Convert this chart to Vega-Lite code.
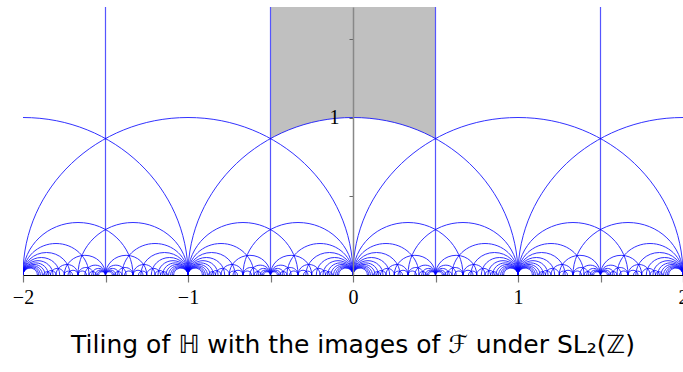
{
"$schema": "https://vega.github.io/schema/vega-lite/v6.json",
"width": 660, "height": 268,
"autosize": {"type": "none"},
"padding": {"left": 23, "top": 7, "right": 0, "bottom": 97},
"background": "white",
"config": {"view": {"stroke": null}},
"title": {"text": "Tiling of ℍ with the images of ℱ under SL₂(ℤ)", "orient": "bottom", "offset": 26, "fontSize": 25, "font": "DejaVu Sans", "fontWeight": "normal", "color": "black", "frame": "group"},
"datasets": {
"region": [{"a": -0.5, "b": 0.5}],
"disc": [{"c": 0, "r": 1}],
"verts": [{"x": -1.5}, {"x": -0.5}, {"x": 0.5}, {"x": 1.5}],
"arcs": [
{"c":-2,"r":1},{"c":-1,"r":1},{"c":0,"r":1},{"c":1,"r":1},{"c":2,"r":1},
{"c":-1.66667,"r":0.33333},{"c":-1.8,"r":0.2},{"c":-1.85714,"r":0.14286},{"c":-1.88889,"r":0.11111},{"c":-1.90909,"r":0.09091},{"c":-1.92308,"r":0.07692},{"c":-1.93333,"r":0.06667},{"c":-1.94118,"r":0.05882},{"c":-1.94737,"r":0.05263},{"c":-1.95238,"r":0.04762},{"c":-1.95652,"r":0.04348},
{"c":-1.33333,"r":0.33333},{"c":-1.2,"r":0.2},{"c":-1.14286,"r":0.14286},{"c":-1.11111,"r":0.11111},{"c":-1.09091,"r":0.09091},{"c":-1.07692,"r":0.07692},{"c":-1.06667,"r":0.06667},{"c":-1.05882,"r":0.05882},{"c":-1.05263,"r":0.05263},{"c":-1.04762,"r":0.04762},{"c":-1.04348,"r":0.04348},
{"c":-0.66667,"r":0.33333},{"c":-0.8,"r":0.2},{"c":-0.85714,"r":0.14286},{"c":-0.88889,"r":0.11111},{"c":-0.90909,"r":0.09091},{"c":-0.92308,"r":0.07692},{"c":-0.93333,"r":0.06667},{"c":-0.94118,"r":0.05882},{"c":-0.94737,"r":0.05263},{"c":-0.95238,"r":0.04762},{"c":-0.95652,"r":0.04348},
{"c":-0.33333,"r":0.33333},{"c":-0.2,"r":0.2},{"c":-0.14286,"r":0.14286},{"c":-0.11111,"r":0.11111},{"c":-0.09091,"r":0.09091},{"c":-0.07692,"r":0.07692},{"c":-0.06667,"r":0.06667},{"c":-0.05882,"r":0.05882},{"c":-0.05263,"r":0.05263},{"c":-0.04762,"r":0.04762},{"c":-0.04348,"r":0.04348},
{"c":0.33333,"r":0.33333},{"c":0.2,"r":0.2},{"c":0.14286,"r":0.14286},{"c":0.11111,"r":0.11111},{"c":0.09091,"r":0.09091},{"c":0.07692,"r":0.07692},{"c":0.06667,"r":0.06667},{"c":0.05882,"r":0.05882},{"c":0.05263,"r":0.05263},{"c":0.04762,"r":0.04762},{"c":0.04348,"r":0.04348},
{"c":0.66667,"r":0.33333},{"c":0.8,"r":0.2},{"c":0.85714,"r":0.14286},{"c":0.88889,"r":0.11111},{"c":0.90909,"r":0.09091},{"c":0.92308,"r":0.07692},{"c":0.93333,"r":0.06667},{"c":0.94118,"r":0.05882},{"c":0.94737,"r":0.05263},{"c":0.95238,"r":0.04762},{"c":0.95652,"r":0.04348},
{"c":1.33333,"r":0.33333},{"c":1.2,"r":0.2},{"c":1.14286,"r":0.14286},{"c":1.11111,"r":0.11111},{"c":1.09091,"r":0.09091},{"c":1.07692,"r":0.07692},{"c":1.06667,"r":0.06667},{"c":1.05882,"r":0.05882},{"c":1.05263,"r":0.05263},{"c":1.04762,"r":0.04762},{"c":1.04348,"r":0.04348},
{"c":1.66667,"r":0.33333},{"c":1.8,"r":0.2},{"c":1.85714,"r":0.14286},{"c":1.88889,"r":0.11111},{"c":1.90909,"r":0.09091},{"c":1.92308,"r":0.07692},{"c":1.93333,"r":0.06667},{"c":1.94118,"r":0.05882},{"c":1.94737,"r":0.05263},{"c":1.95238,"r":0.04762},{"c":1.95652,"r":0.04348},
{"c":-1.625,"r":0.125},{"c":-1.5625,"r":0.0625},{"c":-1.54167,"r":0.04167},{"c":-1.53125,"r":0.03125},{"c":-1.525,"r":0.025},{"c":-1.52083,"r":0.02083},
{"c":-1.375,"r":0.125},{"c":-1.4375,"r":0.0625},{"c":-1.45833,"r":0.04167},{"c":-1.46875,"r":0.03125},{"c":-1.475,"r":0.025},{"c":-1.47917,"r":0.02083},
{"c":-0.625,"r":0.125},{"c":-0.5625,"r":0.0625},{"c":-0.54167,"r":0.04167},{"c":-0.53125,"r":0.03125},{"c":-0.525,"r":0.025},{"c":-0.52083,"r":0.02083},
{"c":-0.375,"r":0.125},{"c":-0.4375,"r":0.0625},{"c":-0.45833,"r":0.04167},{"c":-0.46875,"r":0.03125},{"c":-0.475,"r":0.025},{"c":-0.47917,"r":0.02083},
{"c":0.375,"r":0.125},{"c":0.4375,"r":0.0625},{"c":0.45833,"r":0.04167},{"c":0.46875,"r":0.03125},{"c":0.475,"r":0.025},{"c":0.47917,"r":0.02083},
{"c":0.625,"r":0.125},{"c":0.5625,"r":0.0625},{"c":0.54167,"r":0.04167},{"c":0.53125,"r":0.03125},{"c":0.525,"r":0.025},{"c":0.52083,"r":0.02083},
{"c":1.375,"r":0.125},{"c":1.4375,"r":0.0625},{"c":1.45833,"r":0.04167},{"c":1.46875,"r":0.03125},{"c":1.475,"r":0.025},{"c":1.47917,"r":0.02083},
{"c":1.625,"r":0.125},{"c":1.5625,"r":0.0625},{"c":1.54167,"r":0.04167},{"c":1.53125,"r":0.03125},{"c":1.525,"r":0.025},{"c":1.52083,"r":0.02083},
{"c":-1.61905,"r":0.04762},{"c":-1.38095,"r":0.04762},{"c":-1.64103,"r":0.02564},{"c":-1.35897,"r":0.02564},{"c":-1.73333,"r":0.06667},{"c":-1.26667,"r":0.06667},{"c":-1.69697,"r":0.0303},{"c":-1.30303,"r":0.0303},{"c":-1.725,"r":0.025},{"c":-1.275,"r":0.025},{"c":-1.79167,"r":0.04167},{"c":-1.20833,"r":0.04167},{"c":-1.82857,"r":0.02857},{"c":-1.17143,"r":0.02857},{"c":-1.57778,"r":0.02222},{"c":-1.42222,"r":0.02222},{"c":-1.85417,"r":0.02083},{"c":-1.14583,"r":0.02083},
{"c":-0.61905,"r":0.04762},{"c":-0.38095,"r":0.04762},{"c":-0.64103,"r":0.02564},{"c":-0.35897,"r":0.02564},{"c":-0.73333,"r":0.06667},{"c":-0.26667,"r":0.06667},{"c":-0.69697,"r":0.0303},{"c":-0.30303,"r":0.0303},{"c":-0.725,"r":0.025},{"c":-0.275,"r":0.025},{"c":-0.79167,"r":0.04167},{"c":-0.20833,"r":0.04167},{"c":-0.82857,"r":0.02857},{"c":-0.17143,"r":0.02857},{"c":-0.57778,"r":0.02222},{"c":-0.42222,"r":0.02222},{"c":-0.85417,"r":0.02083},{"c":-0.14583,"r":0.02083},
{"c":0.38095,"r":0.04762},{"c":0.61905,"r":0.04762},{"c":0.35897,"r":0.02564},{"c":0.64103,"r":0.02564},{"c":0.26667,"r":0.06667},{"c":0.73333,"r":0.06667},{"c":0.30303,"r":0.0303},{"c":0.69697,"r":0.0303},{"c":0.275,"r":0.025},{"c":0.725,"r":0.025},{"c":0.20833,"r":0.04167},{"c":0.79167,"r":0.04167},{"c":0.17143,"r":0.02857},{"c":0.82857,"r":0.02857},{"c":0.42222,"r":0.02222},{"c":0.57778,"r":0.02222},{"c":0.14583,"r":0.02083},{"c":0.85417,"r":0.02083},
{"c":1.38095,"r":0.04762},{"c":1.61905,"r":0.04762},{"c":1.35897,"r":0.02564},{"c":1.64103,"r":0.02564},{"c":1.26667,"r":0.06667},{"c":1.73333,"r":0.06667},{"c":1.30303,"r":0.0303},{"c":1.69697,"r":0.0303},{"c":1.275,"r":0.025},{"c":1.725,"r":0.025},{"c":1.20833,"r":0.04167},{"c":1.79167,"r":0.04167},{"c":1.17143,"r":0.02857},{"c":1.82857,"r":0.02857},{"c":1.42222,"r":0.02222},{"c":1.57778,"r":0.02222},{"c":1.14583,"r":0.02083},{"c":1.85417,"r":0.02083}
]
},
"layer": [
{"data": {"name": "region"},
 "mark": {"type": "rect", "color": "#c0c0c0"},
 "encoding": {
  "x": {"field": "a", "type": "quantitative", "scale": {"domain": [-2, 2], "nice": false, "zero": false},
        "axis": {"title": null, "grid": false, "values": [-2, -1.5, -1, -0.5, 0, 0.5, 1, 1.5, 2],
                 "labelExpr": "datum.value % 1 === 0 ? format(datum.value, 'd') : ''",
                 "labelFlush": false, "labelOverlap": false, "labelBound": false,
                 "tickSize": 7, "tickColor": "#777777", "tickWidth": 1.2,
                 "domainColor": "#000000", "domainWidth": 1.2,
                 "labelFont": "Liberation Serif", "labelFontSize": 20, "labelColor": "#000000", "labelPadding": 5, "zindex": 1}},
  "x2": {"field": "b"},
  "y": {"datum": 0, "type": "quantitative", "scale": {"domain": [0, 1.70159], "nice": false, "zero": false},
        "axis": {"title": null, "grid": false, "orient": "left", "offset": -330, "values": [0.5, 1, 1.5],
                 "labelExpr": "datum.value === 1 ? '1' : ''",
                 "tickSize": 4, "tickColor": "#666666", "tickWidth": 1,
                 "domainColor": "#888888", "domainWidth": 1.5,
                 "labelFont": "Liberation Serif", "labelFontSize": 20, "labelColor": "#000000", "labelPadding": 10, "zindex": 1}},
  "y2": {"datum": 1.70159}
 }},
{"data": {"name": "disc"},
 "mark": {"type": "point", "shape": "M-1,0A1,0.954545,0,0,1,1,0Z", "filled": true, "fill": "#ffffff", "strokeWidth": 0, "opacity": 1, "clip": true},
 "encoding": {
  "x": {"field": "c", "type": "quantitative"},
  "y": {"datum": 0, "type": "quantitative"},
  "size": {"field": "r", "type": "quantitative", "scale": {"type": "pow", "exponent": 2, "domain": [0, 1], "range": [0, 108900]}, "legend": null}
 }},
{"data": {"name": "verts"},
 "mark": {"type": "rule", "stroke": "#5555ff", "strokeWidth": 1.2, "opacity": 1},
 "encoding": {"x": {"field": "x", "type": "quantitative"}}},
{"data": {"name": "arcs"},
 "mark": {"type": "point", "shape": "M-1,0A1,0.954545,0,0,1,1,0", "filled": false, "color": "#0000ff", "strokeWidth": 1, "opacity": 0.8, "clip": true},
 "encoding": {
  "x": {"field": "c", "type": "quantitative"},
  "y": {"datum": 0, "type": "quantitative"},
  "size": {"field": "r", "type": "quantitative", "legend": null}
 }}
]
}
